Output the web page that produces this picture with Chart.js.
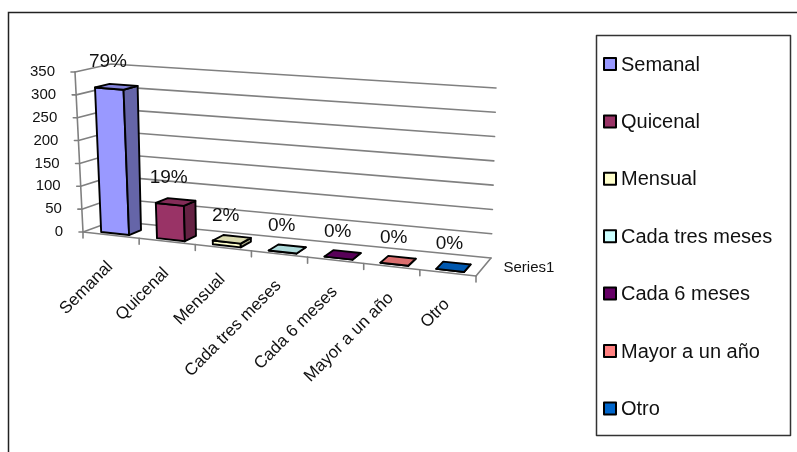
<!DOCTYPE html>
<html>
<head>
<meta charset="utf-8">
<title>Frecuencia</title>
<script src="https://cdn.jsdelivr.net/npm/chart.js@4.4.1/dist/chart.umd.min.js"></script>
<style>
  html, body { margin: 0; padding: 0; background: #fff; }
  canvas { display: block; }
</style>
</head>
<body>
<canvas id="chart" width="797" height="452"></canvas>
<script>
// ---- data ----
const categories = ['Semanal', 'Quicenal', 'Mensual', 'Cada tres meses', 'Cada 6 meses', 'Mayor a un año', 'Otro'];
const responses = [316, 76, 8, 0, 0, 0, 0];
const barColors = ['#9999FF', '#993366', '#FFFFCC', '#CCFFFF', '#660066', '#FF8080', '#0066CC'];
const valueTicks = [0, 50, 100, 150, 200, 250, 300, 350];
const seriesName = 'Series1';

// ---- 3-D box: screen corners of the front and back planes ----
const FRONT = { tl: [75, 72], tr: [478, 103], bl: [83, 232], br: [476, 276] };
const BACK  = { tl: [111, 64], tr: [496, 88], bl: [113, 221], br: [491, 258] };
const BAR_DEPTH = [0.14, 0.56];
const FONT = '"Liberation Sans", Arial, sans-serif';

function bilerp(q, u, v) {
  const tx = q.tl[0] + (q.tr[0] - q.tl[0]) * u, ty = q.tl[1] + (q.tr[1] - q.tl[1]) * u;
  const bx = q.bl[0] + (q.br[0] - q.bl[0]) * u, by = q.bl[1] + (q.br[1] - q.bl[1]) * u;
  return [tx + (bx - tx) * v, ty + (by - ty) * v];
}
// u: across categories (0..1), v: value (0 = top, 1 = floor), w: depth (0 = front, 1 = back)
function project(u, v, w) {
  const f = bilerp(FRONT, u, v), b = bilerp(BACK, u, v);
  return [f[0] + (b[0] - f[0]) * w, f[1] + (b[1] - f[1]) * w];
}
function shade(hex, k) {
  const n = parseInt(hex.slice(1), 16);
  const r = Math.round(((n >> 16) & 255) * k), g = Math.round(((n >> 8) & 255) * k), b = Math.round((n & 255) * k);
  return `rgb(${r},${g},${b})`;
}
function polygon(ctx, pts, fill) {
  ctx.beginPath();
  ctx.moveTo(pts[0][0], pts[0][1]);
  for (let i = 1; i < pts.length; i++) ctx.lineTo(pts[i][0], pts[i][1]);
  ctx.closePath();
  ctx.fillStyle = fill;
  ctx.fill();
  ctx.stroke();
}
function line(ctx, a, b) {
  ctx.beginPath();
  ctx.moveTo(a[0], a[1]);
  ctx.lineTo(b[0], b[1]);
  ctx.stroke();
}
function normU(chart, px) { const ca = chart.chartArea; return (px - ca.left) / (ca.right - ca.left); }
function normV(chart, py) { const ca = chart.chartArea; return (py - ca.top) / (ca.bottom - ca.top); }

const perspectiveBox = {
  id: 'perspectiveBox',
  beforeDraw(chart) {
    const ctx = chart.ctx;
    ctx.save();
    ctx.fillStyle = '#fff';
    ctx.fillRect(0, 0, chart.width, chart.height);
    ctx.strokeStyle = '#222';
    ctx.lineWidth = 1.5;
    ctx.beginPath();
    ctx.moveTo(8.5, chart.height);
    ctx.lineTo(8.5, 12.5);
    ctx.lineTo(chart.width, 12.5);
    ctx.stroke();
    ctx.restore();
  },
  beforeDatasetsDraw(chart) {
    const ctx = chart.ctx, ys = chart.scales.y, xs = chart.scales.x;
    ctx.save();
    ctx.strokeStyle = '#808080';
    ctx.lineWidth = 1.6;
    ctx.lineCap = 'round';
    ctx.font = '15px ' + FONT;
    ctx.fillStyle = '#111';
    ctx.textAlign = 'right';
    ctx.textBaseline = 'middle';
    // walls: gridlines on side wall and back wall
    ys.ticks.forEach(t => {
      const v = normV(chart, ys.getPixelForValue(t.value));
      const a = project(0, v, 0), b = project(0, v, 1), c = project(1, v, 1);
      ctx.beginPath();
      ctx.moveTo(a[0], a[1]); ctx.lineTo(b[0], b[1]); ctx.lineTo(c[0], c[1]);
      ctx.stroke();
      line(ctx, a, [a[0] - 4, a[1]]);
      ctx.fillText(t.label !== undefined ? t.label : String(t.value), a[0] - 20, a[1]);
    });
    // value axis and floor outline
    line(ctx, project(0, 0, 0), project(0, 1, 0));
    line(ctx, project(0, 1, 0), project(1, 1, 0));
    line(ctx, project(1, 1, 0), project(1, 1, 1));
    // category tick marks at the boundaries
    const n = categories.length;
    const centers = categories.map((_, i) => normU(chart, xs.getPixelForValue(i)));
    const bounds = [0];
    for (let i = 0; i < n - 1; i++) bounds.push((centers[i] + centers[i + 1]) / 2);
    bounds.push(1);
    bounds.forEach(u => { const p = project(u, 1, 0); line(ctx, p, [p[0], p[1] + 6]); });
    ctx.restore();
  },
  beforeDatasetDraw() { return false; },
  afterDatasetsDraw(chart) {
    const ctx = chart.ctx, xs = chart.scales.x;
    const meta = chart.getDatasetMeta(0);
    const [w0, w1] = BAR_DEPTH;
    const total = responses.reduce((s, v) => s + v, 0);
    ctx.save();
    ctx.strokeStyle = '#000';
    ctx.lineWidth = 1.9;
    ctx.lineJoin = 'round';
    meta.data.forEach((bar, i) => {
      const p = bar.getProps(['x', 'y', 'base', 'width'], true);
      const u0 = normU(chart, p.x - p.width / 2), u1 = normU(chart, p.x + p.width / 2);
      const vt = normV(chart, p.y), vb = normV(chart, p.base);
      const col = barColors[i];
      polygon(ctx, [project(u0, vt, w0), project(u1, vt, w0), project(u1, vb, w0), project(u0, vb, w0)], col);
      polygon(ctx, [project(u1, vt, w0), project(u1, vt, w1), project(u1, vb, w1), project(u1, vb, w0)], shade(col, 0.66));
      polygon(ctx, [project(u0, vt, w0), project(u1, vt, w0), project(u1, vt, w1), project(u0, vt, w1)], shade(col, 0.86));
    });
    // value labels as share of the total
    ctx.fillStyle = '#111';
    ctx.font = '19px ' + FONT;
    ctx.textAlign = 'center';
    ctx.textBaseline = 'middle';
    meta.data.forEach((bar, i) => {
      const p = bar.getProps(['x', 'y'], true);
      const q = project(normU(chart, p.x), normV(chart, p.y), 0.1);
      ctx.fillText(Math.round(responses[i] / total * 100) + '%', q[0], q[1] - 27);
    });
    // category labels along the front edge
    ctx.font = '17px ' + FONT;
    ctx.textAlign = 'right';
    ctx.textBaseline = 'top';
    categories.forEach((name, i) => {
      const q = project(normU(chart, xs.getPixelForValue(i)), 1, 0);
      ctx.save();
      ctx.translate(q[0] - 7, q[1] + 23);
      ctx.rotate(-Math.PI / 4);
      ctx.fillText(name, 0, 0);
      ctx.restore();
    });
    // depth axis label
    ctx.font = '15px ' + FONT;
    ctx.textAlign = 'left';
    ctx.textBaseline = 'middle';
    const s = project(1, 1, 0.5);
    ctx.fillText(seriesName, s[0] + 20, s[1] + 1);
    // legend
    ctx.strokeStyle = '#333';
    ctx.lineWidth = 1.5;
    ctx.strokeRect(596.5, 35.5, 194, 400);
    ctx.font = '20px ' + FONT;
    ctx.textBaseline = 'middle';
    categories.forEach((name, i) => {
      const cy = 64 + i * 57.4;
      ctx.fillStyle = barColors[i];
      ctx.strokeStyle = '#000';
      ctx.lineWidth = 2;
      ctx.fillRect(604, cy - 6, 12, 12);
      ctx.strokeRect(604, cy - 6, 12, 12);
      ctx.fillStyle = '#111';
      ctx.fillText(name, 621, cy + 1);
    });
    ctx.restore();
  }
};

new Chart(document.getElementById('chart'), {
  type: 'bar',
  data: {
    labels: categories,
    datasets: [{
      label: seriesName,
      data: responses,
      backgroundColor: barColors,
      categoryPercentage: 1,
      barPercentage: 0.5
    }]
  },
  options: {
    responsive: false,
    animation: false,
    devicePixelRatio: 1,
    layout: { padding: 0 },
    scales: {
      x: { display: false },
      y: {
        display: false,
        min: valueTicks[0],
        max: valueTicks[valueTicks.length - 1],
        afterBuildTicks(scale) { scale.ticks = valueTicks.map(value => ({ value })); }
      }
    },
    plugins: { legend: { display: false }, tooltip: { enabled: false } }
  },
  plugins: [perspectiveBox]
});
</script>
</body>
</html>
